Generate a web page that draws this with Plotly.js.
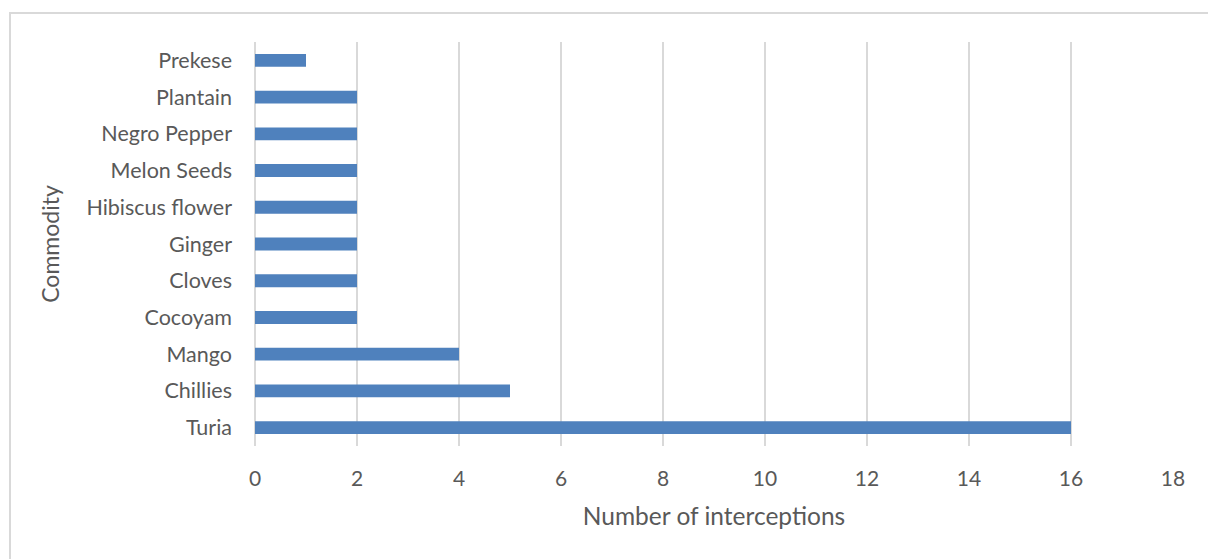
<!DOCTYPE html>
<html>
<head>
<meta charset="utf-8">
<script src="https://cdn.plot.ly/plotly-3.0.1.min.js"></script>
<style>
  html, body { margin: 0; padding: 0; background: #fff; }
  #wrap { position: relative; width: 1208px; height: 559px; overflow: hidden; }
  #chart { width: 1208px; height: 559px; }
  #frame { position: absolute; left: 9px; top: 12px; width: 1300px; height: 700px;
           border-left: 2px solid #d9d9d9; border-top: 2px solid #d9d9d9; pointer-events: none; }
</style>
</head>
<body>
<div id="wrap">
  <div id="chart"></div>
  <div id="frame"></div>
</div>
<script>
const commodities = ["Turia", "Chillies", "Mango", "Cocoyam", "Cloves", "Ginger",
  "Hibiscus flower", "Melon Seeds", "Negro Pepper", "Plantain", "Prekese"];
const interceptions = [16, 5, 4, 2, 2, 2, 2, 2, 2, 2, 1];
const xTicks = [0, 2, 4, 6, 8, 10, 12, 14, 16, 18];

const FONT = "Lato, 'Open Sans', sans-serif";
const GREY = "#595959";

Plotly.newPlot("chart", [{
  type: "bar",
  orientation: "h",
  y: commodities,
  x: interceptions,
  marker: { color: "#4f81bd" },
  hoverinfo: "none"
}], {
  width: 1208, height: 559,
  margin: { l: 255, r: 35, t: 42, b: 113 },
  paper_bgcolor: "#ffffff",
  plot_bgcolor: "#ffffff",
  bargap: 0.65,
  showlegend: false,
  font: { family: FONT, color: GREY, size: 21 },
  xaxis: {
    range: [0, 18],
    tickvals: xTicks,
    ticktext: xTicks.map(String),
    showgrid: true, gridcolor: "#d9d9d9", gridwidth: 2,
    zeroline: true, zerolinecolor: "#d9d9d9", zerolinewidth: 2,
    showline: false, ticks: "",
    ticklabelstandoff: 18,
    tickfont: { family: FONT, color: GREY, size: 21 },
    title: { text: "Number of interceptions", font: { family: FONT, color: GREY, size: 24.5 }, standoff: 18 },
    fixedrange: true
  },
  yaxis: {
    type: "category",
    categoryorder: "array",
    categoryarray: commodities,
    showgrid: false, showline: false, ticks: "",
    ticklabelstandoff: 22,
    tickfont: { family: FONT, color: GREY, size: 21.5 },
    title: { text: "Commodity", font: { family: FONT, color: GREY, size: 23 }, standoff: 20 },
    automargin: false,
    fixedrange: true
  }
}, { displayModeBar: false, staticPlot: true });
</script>
</body>
</html>
